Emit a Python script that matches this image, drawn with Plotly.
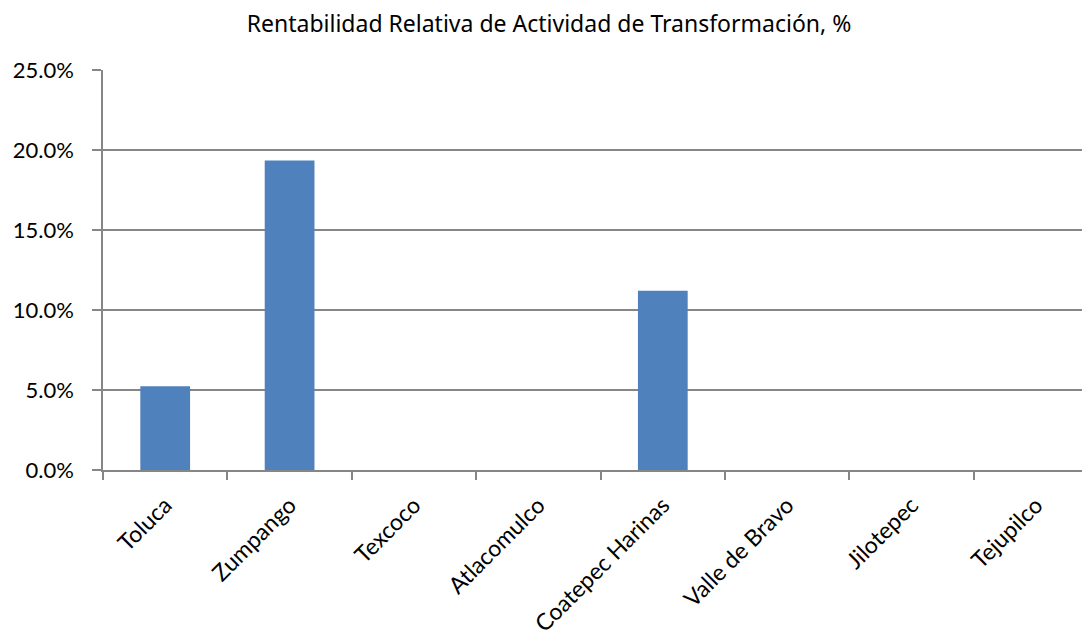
import plotly.graph_objects as go

municipios = ["Toluca", "Zumpango", "Texcoco", "Atlacomulco", "Coatepec Harinas",
              "Valle de Bravo", "Jilotepec", "Tejupilco"]
rentabilidad = [0.0524, 0.1934, 0.0, 0.0, 0.1121, 0.0, 0.0, 0.0]
y_ticks = [0, 0.05, 0.10, 0.15, 0.20, 0.25]

gris = "#868686"

fig = go.Figure()
fig.add_trace(go.Bar(
    x=municipios, y=rentabilidad, width=0.4,
    marker={"color": "#4F81BD", "line": {"width": 0}},
))

# la página tiene un margen de 8px en el body, se compensa aquí
fig.update_layout(
    width=1082, height=629,
    margin={"l": 95, "r": 0, "t": 62, "b": 165},
    paper_bgcolor="white", plot_bgcolor="white",
    font={"family": "Lato, Open Sans, sans-serif", "size": 22, "color": "#000000"},
    title={"text": "Rentabilidad Relativa de Actividad de Transformación, %",
           "x": 0.5, "xanchor": "center", "y": 0.974, "yanchor": "middle",
           "font": {"family": "Noto Sans, sans-serif", "size": 23}},
    showlegend=False,
)
fig.update_xaxes(
    range=[-0.5, 7.434], tickangle=-45, tickson="boundaries",
    ticks="outside", ticklen=8, tickcolor=gris, tickwidth=1.5,
    showline=True, linecolor=gris, linewidth=1.5, showgrid=False,
    tickfont={"size": 23}, ticklabelstandoff=11,
)
fig.update_yaxes(
    range=[0, 0.25], tickvals=y_ticks, tickformat=".1%",
    ticks="outside", ticklen=9, tickcolor=gris, tickwidth=1.5,
    showline=True, linecolor=gris, linewidth=1.5,
    showgrid=True, gridcolor=gris, gridwidth=1.5, zeroline=False,
    tickfont={"size": 22}, ticklabelstandoff=14,
)

fig.write_html("out.html")
